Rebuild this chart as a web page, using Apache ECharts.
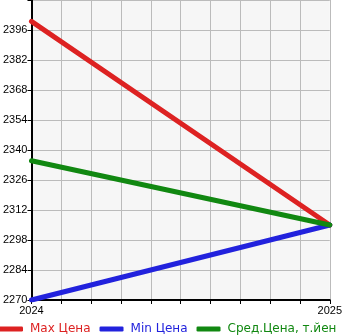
<!DOCTYPE html>
<html><head><meta charset="utf-8">
<script src="https://cdn.jsdelivr.net/npm/echarts@6/dist/echarts.min.js"></script>
<style>html,body{margin:0;padding:0;background:#fff}#c{width:345px;height:335px}</style>
</head><body><div id="c"></div>
<script>
const years = [2024, 2025];
const maxPrice = [2400, 2305];
const minPrice = [2270, 2305];
const avgPrice = [2335, 2305];
const seriesNames = ['Max Цена', 'Min Цена', 'Сред.Цена, т.йен'];
const colors = ['#dd2222', '#2222dd', '#118811'];
const yMin = 2270, yMax = 2410, yStep = 14;

const pairs = arr => years.map((y, i) => [y, arr[i]]);
const chart = echarts.init(document.getElementById('c'), null, {renderer: 'canvas'});
chart.setOption({
  animation: false,
  grid: {left: 31, right: 14, top: 0, bottom: 35, show: true, backgroundColor: '#f6f6f6', borderWidth: 0},
  xAxis: {
    type: 'value', min: years[0], max: years[1], interval: 0.1,
    axisLine: {lineStyle: {color: '#000', width: 2}},
    axisTick: {show: true, length: 4, lineStyle: {color: '#000'}},
    splitLine: {show: true, lineStyle: {color: '#bbbbbb', width: 1}},
    axisLabel: {color: '#000', fontSize: 11, fontFamily: 'Liberation Sans', margin: 5,
      formatter: v => Math.abs(v - Math.round(v)) < 1e-6 ? String(Math.round(v)) : ''}
  },
  yAxis: {
    type: 'value', min: yMin, max: yMax, interval: yStep,
    axisLine: {show: true, lineStyle: {color: '#000', width: 2}},
    axisTick: {show: true, length: 4, lineStyle: {color: '#000'}},
    splitLine: {show: true, lineStyle: {color: '#bbbbbb', width: 1}},
    axisLabel: {color: '#000', fontSize: 11, fontFamily: 'Liberation Sans', margin: 4,
      verticalAlign: 'middle', padding: [0, 0, 8, 0],
      formatter: v => v >= yMax ? '' : String(v)}
  },
  legend: {
    top: 322, left: -1, itemWidth: 24, itemHeight: 5, itemGap: 9,
    icon: 'roundRect', padding: 0,
    textStyle: {fontSize: 12, fontFamily: 'DejaVu Sans', lineHeight: 14, padding: [0, 0, 0, 2]},
    data: seriesNames.map((n, i) => ({name: n, textStyle: {color: colors[i]}}))
  },
  series: [maxPrice, minPrice, avgPrice].map((d, i) => ({
    name: seriesNames[i], type: 'line', data: pairs(d), showSymbol: false, symbol: 'none',
    lineStyle: {color: colors[i], width: 5, cap: 'round'}, itemStyle: {color: colors[i]}
  }))
});
</script></body></html>
